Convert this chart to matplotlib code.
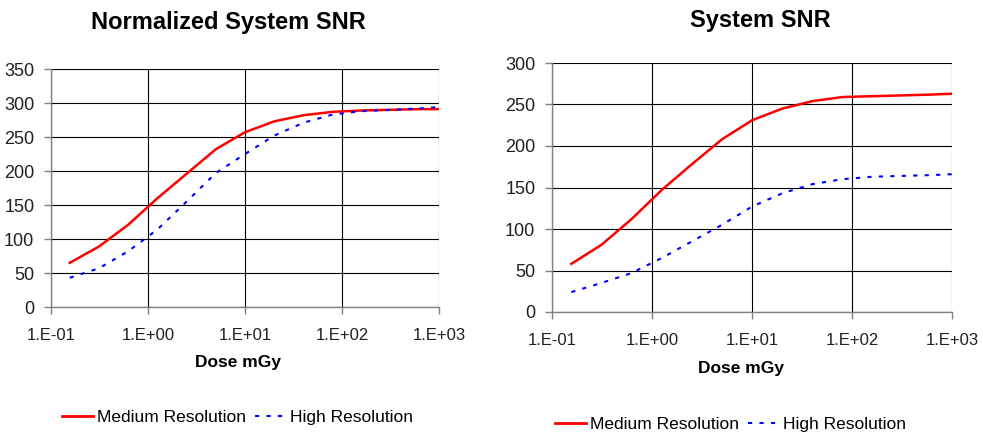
import matplotlib
matplotlib.use('Agg')
import matplotlib.pyplot as plt
from matplotlib.lines import Line2D

plt.rcParams['font.family'] = ['Liberation Sans', 'DejaVu Sans']

# dose points (mGy)
dose = [0.156, 0.3125, 0.625, 1.25, 2.5, 5, 10, 20, 40, 80, 160, 320, 640, 1000]

# normalized system SNR
norm_medium = [65, 89, 121, 160, 196, 232, 257, 273, 282, 287, 289, 290, 291, 291]
norm_high = [43, 57, 82, 114, 155, 197, 225, 252, 271, 283, 288, 290, 292, 294]

# system SNR
sys_medium = [58, 81, 112, 147, 178, 208, 231, 245, 254, 259, 260, 261, 262, 263]
sys_high = [24, 35, 47, 65, 85, 105, 127, 143, 154, 160, 163, 164, 165, 166]

x_ticks = [0.1, 1, 10, 100, 1000]
x_tick_labels = ['1.E-01', '1.E+00', '1.E+01', '1.E+02', '1.E+03']

W, H = 983, 432
DASH = (0, (2, 3.5))


def px_axes(fig, left, top, right, bottom):
    return fig.add_axes([left / W, 1 - bottom / H, (right - left) / W, (bottom - top) / H])


def style_axes(ax, ymax):
    ax.set_xscale('log')
    ax.set_xlim(0.1, 1000)
    ax.set_ylim(0, ymax)
    ax.set_xticks(x_ticks)
    ax.set_xticklabels(x_tick_labels)
    ax.minorticks_off()
    ax.set_yticks(range(0, ymax + 1, 50))
    ax.grid(True, color='black', lw=0.8)
    ax.set_axisbelow(True)
    for s in ['top', 'right']:
        ax.spines[s].set_visible(False)
    for s in ['left', 'bottom']:
        ax.spines[s].set_color('#808080')
        ax.spines[s].set_linewidth(1.0)
    ax.tick_params(length=5, width=1.0, color='#808080', labelcolor='#202020')
    ax.tick_params(axis='y', labelsize=13, pad=7)
    ax.tick_params(axis='x', labelsize=12, pad=10)


fig = plt.figure(figsize=(W / 100, H / 100), dpi=100)

ax1 = px_axes(fig, 51, 69, 439, 307)
ax1.plot(dose, norm_medium, color='red', lw=1.8, solid_joinstyle='round')
ax1.plot(dose, norm_high, color='blue', lw=1.5, linestyle=DASH)
style_axes(ax1, 350)

ax2 = px_axes(fig, 552, 63, 952, 312)
ax2.plot(dose, sys_medium, color='red', lw=1.8, solid_joinstyle='round')
ax2.plot(dose, sys_high, color='blue', lw=1.5, linestyle=DASH)
style_axes(ax2, 300)

fig.text(228 / W, 1 - 23 / H, 'Normalized System SNR', ha='center', va='center',
         fontsize=17, fontweight='bold')
fig.text(760 / W, 1 - 21 / H, 'System SNR', ha='center', va='center',
         fontsize=17, fontweight='bold')
fig.text(238 / W, 1 - 363 / H, 'Dose mGy', ha='center', va='center',
         fontsize=12.5, fontweight='bold')
fig.text(741 / W, 1 - 369 / H, 'Dose mGy', ha='center', va='center',
         fontsize=12.5, fontweight='bold')

handles = [Line2D([], [], color='red', lw=2),
           Line2D([], [], color='blue', lw=1.5, linestyle=DASH)]
labels = ['Medium Resolution', 'High Resolution']
for x0, y0 in [(62, 417), (555, 424)]:
    fig.legend(handles, labels, loc='center left', bbox_to_anchor=(x0 / W, 1 - y0 / H),
               ncol=2, frameon=False, fontsize=12.5, handlelength=1.8,
               handletextpad=0.22, columnspacing=0.5, borderpad=0, borderaxespad=0)

fig.savefig('out.png', dpi=100)
